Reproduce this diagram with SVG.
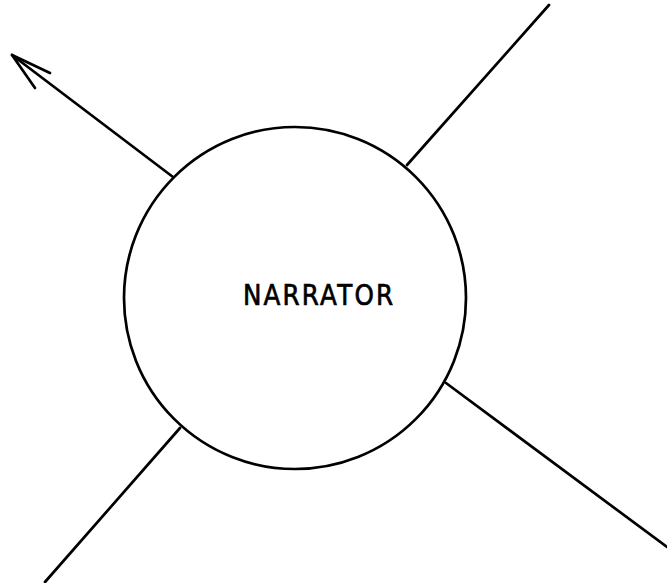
<svg xmlns="http://www.w3.org/2000/svg" width="667" height="583" viewBox="0 0 667 583">
<style>
.ln{fill:none;stroke:#000;stroke-width:2.7;stroke-linecap:round;stroke-linejoin:round}
.lbl{font-family:"DejaVu Sans","Liberation Sans",sans-serif;font-size:28px;fill:#000;stroke:#000;stroke-width:0.7}
</style>
<rect width="667" height="583" fill="#fff"/>
<g id="connectors">
<path class="ln" d="M173,177 L12,55"/>
<path class="ln" d="M50,73 L12,55 L35,88"/>
<path class="ln" d="M407,165 L549,5"/>
<path class="ln" d="M446,383 L667,547"/>
<path class="ln" d="M180,428 L45,582"/>
</g>
<g id="narrator">
<circle class="ln" cx="295" cy="298" r="171"/>
<text class="lbl" transform="translate(243,305) scale(0.88,1)" x="0" y="0" textLength="170.5" lengthAdjust="spacing">NARRATOR</text>
</g>
</svg>
